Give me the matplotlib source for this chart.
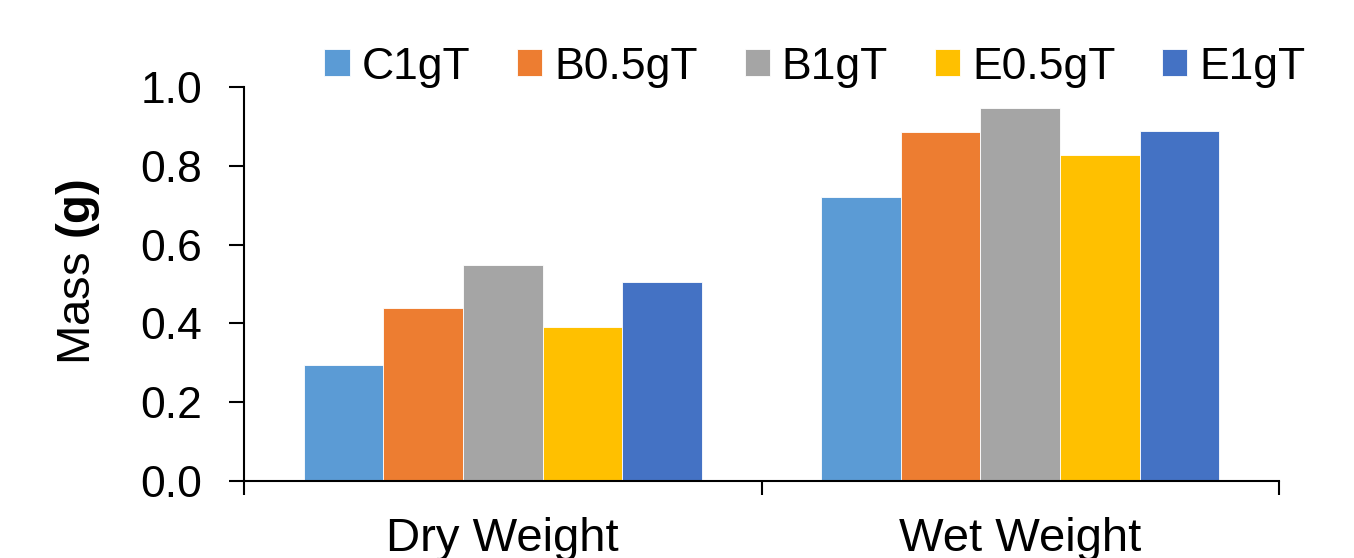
import numpy as np
import matplotlib
matplotlib.use('Agg')
import matplotlib.pyplot as plt

plt.rcParams['font.family'] = 'Liberation Sans'
plt.rcParams['mathtext.fontset'] = 'custom'
plt.rcParams['mathtext.rm'] = 'Liberation Sans'
plt.rcParams['mathtext.bf'] = 'Liberation Sans:bold'

categories = ['Dry Weight', 'Wet Weight']
series = ['C1gT', 'B0.5gT', 'B1gT', 'E0.5gT', 'E1gT']
values = {
    'C1gT':   [0.294, 0.722],
    'B0.5gT': [0.440, 0.886],
    'B1gT':   [0.549, 0.947],
    'E0.5gT': [0.392, 0.828],
    'E1gT':   [0.506, 0.889],
}
colors = ['#5B9BD5', '#ED7D31', '#A5A5A5', '#FFC000', '#4472C4']
yticks = [0.0, 0.2, 0.4, 0.6, 0.8, 1.0]

fig = plt.figure(figsize=(13.54, 5.58), dpi=100)
ax = fig.add_axes([244/1354, 1 - 481/558, (1279 - 244)/1354, (481 - 87)/558])

xpos = np.arange(len(categories))
width = 0.154
handles = []
for i, name in enumerate(series):
    offset = (i - 2) * width
    b = ax.bar(xpos + offset, values[name], width, color=colors[i],
               edgecolor='white', linewidth=0.6, label=name)
    handles.append(b)

ax.set_xlim(-0.5, 1.5)
ax.set_ylim(0, 1.0)
ax.set_yticks(yticks)
ax.set_yticklabels(['%.1f' % t for t in yticks])

# category boundary ticks, labels in between
ax.set_xticks([-0.5, 0.5, 1.5])
ax.set_xticklabels([])
ax.set_xticks(xpos, minor=True)
ax.set_xticklabels(categories, minor=True)
ax.tick_params(axis='x', which='major', direction='out', length=10, width=1.5, color='black')
ax.tick_params(axis='x', which='minor', length=0, pad=26, labelsize=34)
ax.tick_params(axis='y', direction='out', length=11, width=1.5, pad=19, labelsize=32)

for s in ['top', 'right']:
    ax.spines[s].set_visible(False)
for s in ['left', 'bottom']:
    ax.spines[s].set_linewidth(1.5)
    ax.spines[s].set_color('black')

fig.text(78/1354, 1 - 272/558, r'Mass $\mathbf{(g)}$', rotation=90,
         ha='center', va='center', fontsize=34)

fig.legend(handles, series, loc='center', bbox_to_anchor=(815/1354, 1 - 67/558),
           ncol=5, frameon=False, fontsize=32, handlelength=0.57, handleheight=0.57,
           handletextpad=0.27, columnspacing=1.05, borderpad=0, borderaxespad=0)

plt.savefig('out.png', dpi=100)
